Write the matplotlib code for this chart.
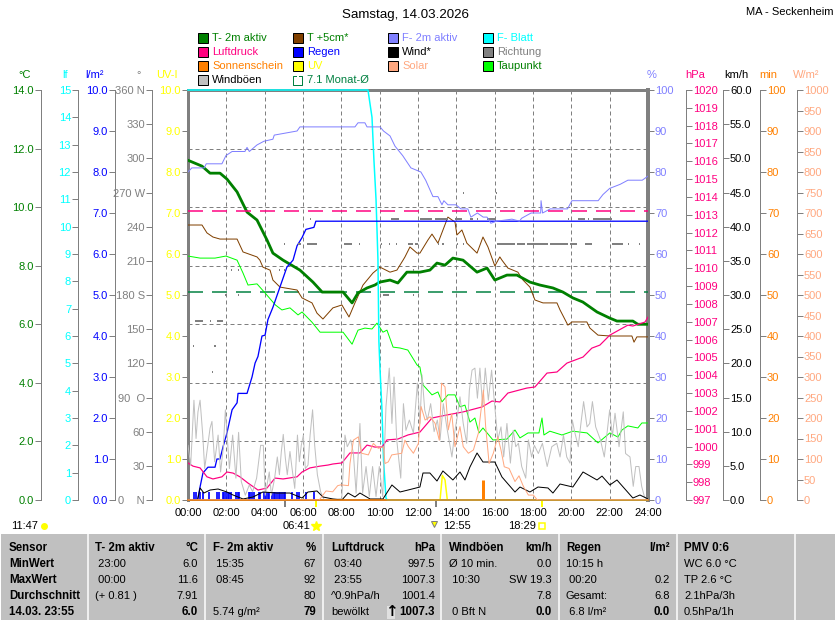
import matplotlib
matplotlib.use("Agg")
import matplotlib.pyplot as plt
from matplotlib.patches import Rectangle

plt.rcParams['font.family'] = ['Liberation Sans', 'DejaVu Sans']

GREEN = '#008000'
CYAN = '#00ffff'
BLUE = '#0000ff'
GRAY = '#808080'
YELLOW = '#ffff00'
LILAC = '#8080ff'
PINK = '#ff0080'
ORANGE = '#ff8000'
SALMON = '#ffa880'
BROWN = '#804000'
LIME = '#00ff00'
LIGHTGRAY = '#c0c0c0'
MONTH = '#008040'
FS = 8
FS_BOLD = 8.3

# all series: hours since midnight / value on the series' own scale
temp_t = [0, .73, 1.15, 1.67, 2.03, 2.56, 3.08, 3.6, 4.12, 4.43, 4.96, 5.84, 6.52, 7.0, 8.09, 8.56, 8.87, 9.34,
          9.75, 10.0, 10.54, 10.95, 11.42, 12.1, 12.62, 12.99, 13.41, 13.82, 14.35, 15.08, 15.6, 16.01, 16.64,
          17.16, 17.84, 18.36, 19.04, 19.56, 20.08, 20.6, 21.34, 22.01, 22.38, 23.21, 23.47, 24]
temp_v = [11.6, 11.4, 11.16, 11.16, 10.96, 10.52, 9.83, 9.56, 8.88, 8.43, 8.19, 7.85, 7.44, 7.1, 7.1, 6.73, 7.07,
          7.24, 7.34, 7.44, 7.51, 7.41, 7.78, 7.78, 7.85, 8.09, 8.02, 8.26, 8.19, 7.78, 7.92, 7.51, 7.68, 7.68,
          7.44, 7.34, 7.24, 7.1, 6.9, 6.76, 6.42, 6.21, 6.11, 6.11, 6.0, 6.0]

soil_t = [0, .73, .99, 1.3, 1.67, 2.56, 2.87, 3.6, 3.75, 3.91, 4.28, 4.43, 4.8, 5.69, 5.95, 6.47, 6.73, 7.04, 7.56,
          8.03, 8.4, 8.71, 9.13, 9.65, 10.02, 10.54, 10.9, 11.22, 11.32, 11.58, 11.95, 12.1, 12.52, 12.73, 13.04,
          13.56, 13.93, 14.03, 14.29, 14.55, 15.08, 15.39, 15.65, 16.01, 16.27, 16.38, 16.69, 17.21, 17.48, 17.84,
          18.1, 18.52, 19.25, 19.41, 19.82, 20.03, 20.81, 20.97, 21.39, 22.01, 23.16, 23.27, 23.42, 24]
soil_v = [9.39, 9.39, 9.12, 8.98, 8.91, 8.91, 8.47, 8.3, 8.19, 7.95, 7.85, 7.51, 7.27, 7.17, 6.9, 6.73, 6.38, 6.18,
          6.56, 6.66, 6.25, 6.73, 7.34, 7.75, 7.95, 7.78, 7.85, 8.19, 8.3, 8.64, 8.43, 8.43, 8.88, 9.08, 8.77, 9.66,
          9.49, 9.05, 9.22, 8.77, 8.43, 8.98, 8.64, 7.99, 8.3, 8.19, 7.92, 7.78, 7.51, 7.27, 6.83, 6.73, 6.73, 6.49,
          5.97, 6.08, 6.08, 5.87, 5.63, 5.6, 5.6, 5.39, 5.57, 5.57]

dew_t = [0, .63, 1.41, 1.98, 2.56, 2.87, 3.13, 3.6, 4.02, 4.56, 4.9, 5.32, 5.74, 5.95, 6.47, 6.89, 8.09, 8.56, 8.87,
         9.23, 9.6, 9.86, 10.17, 10.38, 10.7, 11.06, 11.47, 11.95, 12.1, 12.26, 12.73, 13.04, 13.25, 13.56, 13.93,
         14.19, 14.45, 14.71, 14.97, 15.18, 15.39, 15.91, 16.64, 17.06, 17.32, 17.74, 18.31, 18.47, 18.57, 18.88,
         19.51, 20.08, 20.82, 21.39, 22.01, 22.43, 22.64, 22.95, 23.47, 23.68, 24]
dew_v = [8.33, 8.26, 8.26, 8.33, 8.19, 7.75, 7.34, 7.38, 7.07, 6.66, 6.49, 6.56, 6.32, 6.42, 6.07, 5.73, 5.73, 5.32,
         5.8, 5.87, 5.84, 6.04, 5.73, 5.8, 5.22, 5.19, 5.12, 4.61, 4.54, 3.93, 3.59, 3.69, 3.35, 3.59, 3.59, 3.18,
         3.24, 2.66, 2.8, 2.29, 2.46, 2.05, 2.08, 2.39, 2.12, 2.29, 2.29, 2.8, 2.22, 2.35, 2.22, 2.35, 2.29, 1.95,
         2.29, 2.15, 2.39, 2.53, 2.46, 2.63, 2.63]

hum_t = [0, .2, .85, .95, 1.77, 1.98, 2.3, 2.97, 3.08, 3.2, 3.6, 3.96, 4.43, 4.5, 5.69, 5.84, 8.71, 8.87, 9.23, 9.34,
         10.02, 10.2, 10.54, 10.8, 11.2, 11.63, 12.15, 12.4, 12.78, 13.04, 13.25, 13.35, 13.56, 13.98, 14.24, 14.6,
         14.76, 15.1, 15.4, 15.6, 15.8, 16.1, 16.9, 17.3, 17.4, 17.9, 18.4, 18.42, 18.5, 18.9, 19.8, 20.03, 21.4,
         21.65, 22.0, 22.55, 22.95, 23.7, 24]
hum_v = [80, 81, 81, 82, 82, 84, 85, 85, 86, 85, 86.6, 87.5, 88, 89, 90, 91, 91, 92, 92, 91, 91, 90, 88.8, 86.3, 84,
         81, 80, 78, 74, 74, 72, 73, 72, 72, 71, 71, 69, 70, 69, 69, 67.5, 68, 68.5, 68, 68.7, 70, 70, 73, 70, 71,
         71, 73, 73, 74.5, 76, 77, 78, 78, 79]

leaf_t = [0, 9.39, 9.6, 9.7, 9.81, 9.91, 9.96, 10.02, 10.12, 10.2, 10.33, 10.4, 24]
leaf_v = [15, 15, 14, 12.45, 11, 8.8, 5.8, 4.75, 3.3, 1.46, .07, 0, 0]

rain_t = [0, .5, .63, .78, 1.04, 1.41, 1.51, 1.67, 1.83, 2.03, 2.3, 2.56, 2.61, 3.08, 3.34, 3.5, 3.65, 3.86, 4.02,
          4.17, 4.43, 4.69, 5.16, 5.48, 5.69, 5.95, 6.15, 6.57, 6.67, 24]
rain_v = [0, 0, .32, .66, .8, .8, 1.0, 1.0, 1.3, 1.63, 2.2, 2.37, 2.6, 2.6, 3.0, 3.34, 3.5, 4.0, 4.02, 4.4, 4.7, 5.05,
          5.68, 5.85, 6.2, 6.4, 6.6, 6.65, 6.8, 6.8]
rate_t = [.31, .4, .64, .8, 1.11, 1.5, 1.6, 1.81, 1.9, 1.98, 2.07, 2.16, 2.24, 2.5, 2.59, 2.68, 3.17, 3.25, 3.34,
          3.46, 3.69, 3.77, 3.98, 4.07, 4.16, 4.24, 4.38, 4.47, 4.56, 4.64, 4.73, 4.82, 4.9, 4.99, 5.08, 5.43, 5.69,
          5.77, 6.16, 6.59]
rate_v = [.2] * 40

press_t = [0, .26, .63, .99, 1.3, 1.77, 2.03, 2.35, 2.71, 3.13, 3.65, 4.12, 4.54, 4.96, 5.69, 5.95, 6.36, 6.89, 7.3,
           7.56, 8.03, 8.45, 8.97, 9.34, 9.75, 10.12, 10.38, 10.95, 11.48, 12.1, 12.73, 13.51, 14.35, 15.34, 15.86,
           16.27, 16.69, 17.68, 18.1, 18.73, 19.25, 19.77, 20.61, 21.07, 21.49, 22.01, 22.95, 23.21, 23.84, 24]
press_v = [999.08, 998.9, 998.8, 998.3, 998.18, 998.3, 998.57, 998.51, 998.3, 997.95, 997.56, 997.67, 998.23, 998.18,
           998.3, 998.57, 998.8, 998.9, 998.96, 999.02, 999.08, 999.64, 999.64, 1000.08, 999.97, 999.97, 1000.37,
           1000.42, 1000.65, 1000.81, 1001.6, 1001.77, 1001.94, 1002.22, 1002.55, 1002.5, 1003.0, 1003.28, 1003.34,
           1004.12, 1004.18, 1004.68, 1005.02, 1005.52, 1005.69, 1006.25, 1006.81, 1006.76, 1006.98, 1007.26]

wind_t = [0, .5, .63, .83, 1.15, 1.57, 2.03, 2.35, 2.87, 3.39, 3.91, 4.64, 5.32, 5.95, 6.26, 6.73, 7.04, 7.56, 8.03,
          8.35, 8.71, 8.97, 9.5, 10.17, 10.64, 11.06, 11.48, 12.1, 12.26, 12.62, 12.99, 13.3, 13.82, 14.19, 14.45,
          14.71, 15.08, 15.39, 16.01, 16.38, 17.06, 17.32, 17.84, 18.26, 18.78, 19.04, 19.41, 20.08, 20.61, 21.34,
          21.6, 22.01, 22.38, 23.21, 23.58, 24]
wind_v = [0, 0, 1.76, 1.02, 1.46, 1.61, 1.17, .73, .15, .44, 1.17, 1.02, 1.02, .29, 1.17, 1.32, .44, .15, 0, 1.02,
          .44, 1.02, .15, .15, 2.2, 1.17, 1.46, 1.9, 3.95, 3.95, 2.78, 4.25, 2.93, 4.1, 2.93, 4.83, 6.88, 5.56, 5.56,
          3.37, 1.17, 1.9, 1.17, 1.9, 1.76, 1.02, 2.34, 1.9, 4.1, 2.93, 3.5, 2.2, 2.93, .29, .73, .15]

gust_t = [0, .14, .31, .42, .52, .63, .77, .87, 1.01, 1.15, 1.25, 1.39, 1.57, 1.7, 1.84, 1.95, 2.05, 2.16, 2.33, 2.5,
          2.64, 2.78, 2.99, 3.2, 3.37, 3.58, 3.79, 3.93, 4.03, 4.24, 4.35, 4.52, 4.66, 4.77, 4.87, 4.97, 5.08, 5.18,
          5.32, 5.43, 5.57, 5.71, 5.81, 5.91, 6.02, 6.12, 6.26, 6.37, 6.5, 6.61, 6.75, 6.92, 7.11, 8.02, 8.19, 8.31,
          8.49, 8.63, 8.77, 8.97, 9.11, 9.29, 9.46, 9.63, 9.81, 9.98, 10.16, 10.33, 10.5, 10.64, 10.75, 10.89, 11.1,
          11.24, 11.37, 11.55, 11.76, 11.97, 12.1, 12.21, 12.35, 12.49, 12.66, 12.84, 13.01, 13.15, 13.32, 13.5,
          13.77, 13.93, 14.05, 14.19, 14.36, 14.54, 14.68, 14.82, 14.97, 15.1, 15.23, 15.37, 15.51, 15.67, 15.84,
          16.02, 16.16, 16.33, 16.47, 16.64, 16.82, 16.97, 17.1, 17.24, 17.41, 17.62, 17.76, 17.93, 18.07, 18.28,
          18.49, 18.74, 18.98, 19.24, 19.41, 19.59, 19.76, 19.93, 20.05, 20.19, 20.36, 20.5, 20.64, 20.82, 20.96,
          21.1, 21.27, 21.52, 21.72, 22.0, 22.14, 22.28, 22.49, 22.71, 22.83, 23.06, 23.23, 23.36, 23.53, 23.67,
          23.81, 24]
gust_v = [8.0, 5.1, 14.6, 9.0, 12.9, 14.6, 9.5, 4.6, 7.6, 10.5, 11.5, 5.6, 9.5, 4.1, 7.6, 13.2, 9.0, 4.6, 9.5, 3.2,
          9.9, 2.7, .7, 2.2, 1.2, 3.2, 8.0, 8.0, .7, 4.1, .7, 3.2, 6.3, 3.7, 7.1, 9.6, 6.1, 3.7, 7.1, 4.6, 1.7, 9.5,
          5.6, 8.0, 9.5, 4.6, 5.1, 9.5, 13.2, 8.0, 3.7, 1.2, 0, .2, 9.5, 7.8, 8.8, 6.8, 1.0, 11.2, 1.0, 4.9, .5, 4.9,
          .5, 4.9, .5, 13.7, 19.3, 11.2, 18.0, 8.8, 3.2, 14.1, 10.2, 11.7, 9.8, 17.1, 11.2, 18.3, 13.2, 11.7, 14.1,
          10.0, 11.7, 8.8, 14.1, 10.7, 6.3, 10.2, 12.2, 15.1, 11.2, 8.3, 16.1, 19.0, 19.3, 14.9, 19.3, 13.7, 19.3,
          14.6, 19.0, 13.2, 8.8, 10.7, 6.3, 11.2, 5.4, 10.2, 7.8, 8.3, 4.9, 3.2, 8.8, 6.3, 8.0, 6.8, 8.3, 4.9, 7.8,
          8.3, 6.3, 9.5, 6.3, 5.4, 11.7, 9.8, 7.8, 11.2, 14.4, 10.7, 11.2, 14.4, 10.7, 8.8, 6.3, 13.2, 9.3, 12.7, 7.8,
          12.9, 6.8, 6.3, 2.0, 4.9, 4.9, 2.0, .5, 0]

solar_t = [0, 6.85, 7.2, 7.55, 7.81, 7.98, 8.37, 8.45, 8.63, 8.89, 9.06, 9.41, 9.67, 9.93, 10.19, 10.28, 10.45, 10.63,
           11.15, 11.32, 11.5, 11.76, 12.02, 12.16, 12.37, 12.63, 12.89, 13.11, 13.23, 13.41, 13.58, 13.76, 13.93,
           14.19, 14.36, 14.63, 14.89, 15.15, 15.41, 15.53, 15.71, 15.93, 16.16, 16.33, 16.5, 16.75, 17.06, 17.27,
           17.5, 17.76, 18.02, 18.19, 18.28, 24]
solar_v = [0, 0, 22, 20, 35, 37, 35, 89, 146, 154, 114, 110, 138, 126, 130, 89, 93, 110, 114, 146, 130, 114, 138, 228,
           195, 203, 187, 146, 285, 276, 171, 211, 130, 179, 130, 114, 122, 163, 268, 179, 89, 114, 154, 122, 81, 77,
           45, 59, 33, 12, 12, 2, 0, 0]

uv_t = [0, 13.15, 13.27, 13.41, 13.53, 24]
uv_v = [0, 0, .6, .49, 0, 0]

sun_t = [15.39]
sun_min = [5]

# wind direction: (start, end) hours per heading
dir_270 = [(14.35, 14.42), (16.07, 16.14)]
dir_247 = [(6.36, 6.43), (10.59, 11.0), (12.1, 12.73), (12.88, 13.56), (13.93, 14.29), (14.71, 14.87), (15.08, 15.15),
           (15.6, 16.01), (19.82, 19.89), (20.34, 20.71), (20.87, 20.94), (21.13, 22.12)]
dir_225 = [(5.0, 5.07), (5.74, 5.9), (6.2, 6.73), (8.14, 8.55), (8.92, 8.99), (10.07, 10.14), (10.49, 10.56),
           (10.85, 10.92), (11.48, 11.74), (11.84, 12.0), (13.04, 13.11), (13.25, 13.35), (14.03, 14.1),
           (14.35, 14.42), (16.12, 17.06), (17.16, 17.58), (17.68, 18.78), (18.88, 19.82), (19.93, 20.29),
           (20.71, 21.07), (22.12, 22.69), (22.95, 23.02), (23.53, 23.6)]
dir_202 = [(2.24, 2.31), (2.61, 2.68), (4.75, 4.82), (5.0, 5.07), (11.74, 11.81)]
dir_180 = [(1.93, 2.0), (2.61, 2.68), (10.17, 10.49), (11.74, 11.81)]
dir_157 = [(.37, .78), (1.15, 1.22), (1.51, 1.83)]
dir_135 = [(.26, .33), (1.36, 1.46)]
dir_112 = [(1.25, 1.32)]

month_temp = 7.1
month_press = 1013.2

hour_labels = ['%02d:00' % h for h in range(0, 25, 2)]
dir_ticks = [0, 30, 60, 90, 120, 150, 180, 210, 240, 270, 300, 330, 360]
dir_labels = ['0    N', '30', '60', '90  O', '120', '150', '180 S', '210', '240', '270 W', '300', '330', '360 N']

legend_items = [
    ('T- 2m aktiv', GREEN, GREEN), ('Luftdruck', PINK, PINK), ('Sonnenschein', ORANGE, ORANGE), ('Windböen', LIGHTGRAY, 'black'),
    ('T +5cm*', BROWN, GREEN), ('Regen', BLUE, BLUE), ('UV', YELLOW, YELLOW), ('7.1 Monat-Ø', None, MONTH),
    ('F- 2m aktiv', LILAC, LILAC), ('Wind*', 'black', 'black'), ('Solar', SALMON, SALMON), None,
    ('F- Blatt', CYAN, CYAN), ('Richtung', GRAY, GRAY), ('Taupunkt', LIME, GREEN), None,
]

unit_labels = [('°C', 25, GREEN), ('lf', 65, CYAN), ('l/m²', 95, BLUE), ('°', 139, GRAY), ('UV-I', 167, YELLOW),
               ('%', 652, LILAC), ('hPa', 695, PINK), ('km/h', 736, 'black'), ('min', 768, ORANGE), ('W/m²', 806, SALMON)]

table_left = [
    ['Sensor', 'MinWert', 'MaxWert', 'Durchschnitt', '14.03. 23:55'],
    ['T- 2m aktiv', ' 23:00', ' 00:00', '(+ 0.81 )', ''],
    ['F- 2m aktiv', ' 15:35', ' 08:45', '', '5.74 g/m²'],
    ['Luftdruck', ' 03:40', ' 23:55', '^0.9hPa/h', 'bewölkt'],
    ['Windböen', 'Ø 10 min.', ' 10:30', '', ' 0 Bft N'],
    ['Regen', '10:15 h', ' 00:20', 'Gesamt:', ' 6.8 l/m²'],
    ['PMV 0:6', 'WC 6.0 °C', 'TP 2.6 °C', '2.1hPa/3h', '0.5hPa/1h'],
]
table_right = [
    ['°C', '6.0', '11.6', '7.91', '6.0'],
    ['%', '67', '92', '80', '79'],
    ['hPa', '997.5', '1007.3', '1001.4', '1007.3'],
    ['km/h', '0.0', 'SW 19.3', '7.8', '0.0'],
    ['l/m²', '', '0.2', '6.8', '0.0'],
]
table_left_x = [9, 95, 213, 331, 449, 566, 684]
table_right_x = [198, 316, 435, 552, 670]
table_row_y = [548, 564, 580, 596, 612]
table_split_x = [88, 205, 323, 441, 559, 677, 795]

fig = plt.figure(figsize=(8.35, 6.2), dpi=100)
ax = fig.add_axes([188 / 835, 120 / 620, 460 / 835, 410 / 620])


def px(v):
    return v * 0.72


def style_axis(a, lo, hi, ticks, color, spine_x, side, labels=None):
    a.set_ylim(lo, hi)
    a.set_yticks(ticks)
    if labels is not None:
        a.set_yticklabels(labels)
    if side == 'left':
        a.yaxis.tick_left()
    else:
        a.yaxis.tick_right()
    a.tick_params(axis='y', colors=GRAY, labelcolor=color, length=4, width=px(1), pad=1, labelsize=FS)
    if a is not ax:
        a.patch.set_visible(False)
        for s in a.spines.values():
            s.set_visible(False)
        sp = a.spines[side]
        sp.set_visible(True)
        sp.set_color(GRAY)
        sp.set_linewidth(px(1))
        sp.set_position(('axes', (spine_x - 188) / 460))


def scale(lo, hi, ticks, color, spine_x, side, labels=None):
    a = ax.twinx()
    style_axis(a, lo, hi, ticks, color, spine_x, side, labels)
    return a


style_axis(ax, 0, 10, range(0, 11), YELLOW, 188, 'left', ['%.1f' % v for v in range(0, 11)])
ax.set_xlim(0, 24)
ax.set_xticks(range(0, 25, 2))
ax.set_xticklabels(hour_labels, fontsize=FS)
ax.tick_params(axis='x', length=0, pad=6)
for s in ax.spines.values():
    s.set_color(GRAY)
ax.spines['left'].set_linewidth(px(3))
ax.spines['top'].set_linewidth(px(3))
ax.spines['right'].set_linewidth(px(4))
ax.spines['bottom'].set_linewidth(px(2))
ax.xaxis.grid(True, color=GRAY, lw=px(1), ls=(0, (4, 3)))
ax.set_axisbelow(True)

ax_temp = scale(0, 14, range(0, 15, 2), GREEN, 41, 'left', ['%.1f' % v for v in range(0, 15, 2)])
ax_leaf = scale(0, 15, range(0, 16), CYAN, 78, 'left')
ax_rain = scale(0, 10, range(0, 11), BLUE, 115, 'left', ['%.1f' % v for v in range(0, 11)])
ax_dir = scale(0, 360, dir_ticks, GRAY, 152, 'left', dir_labels)
ax_hum = scale(0, 100, range(0, 101, 10), LILAC, 648, 'right')
ax_press = scale(997, 1020, range(997, 1021), PINK, 686, 'right')
ax_wind = scale(0, 60, range(0, 61, 5), 'black', 723, 'right', ['%.1f' % v for v in range(0, 61, 5)])
ax_min = scale(0, 100, range(0, 101, 10), ORANGE, 760, 'right')
ax_solar = scale(0, 1000, range(0, 1001, 50), SALMON, 797, 'right')

# horizontal grid comes from the temperature scale
ax_temp.yaxis.grid(True, color=GRAY, lw=px(1), ls=(0, (4, 3)))

ax_wind.plot(gust_t, gust_v, color=LIGHTGRAY, lw=px(1))
ax_solar.plot(solar_t, solar_v, color=SALMON, lw=px(1))
for heading, spans in [(270, dir_270), (247, dir_247), (225, dir_225), (202, dir_202), (180, dir_180),
                       (157, dir_157), (135, dir_135), (112, dir_112)]:
    for start, end in spans:
        ax_dir.plot([start, end], [heading, heading], color=GRAY, lw=px(2), solid_capstyle='butt')
ax_press.plot([0, 24], [month_press, month_press], color=PINK, lw=px(1.5), ls=(0, (10, 6)))
ax_temp.plot([0, 24], [month_temp, month_temp], color=MONTH, lw=px(1.5), ls=(0, (10, 6)))
ax_hum.plot(hum_t, hum_v, color=LILAC, lw=px(1))
ax_temp.plot(soil_t, soil_v, color=BROWN, lw=px(1))
ax_temp.plot(dew_t, dew_v, color=LIME, lw=px(1))
ax_leaf.plot(leaf_t, leaf_v, color=CYAN, lw=px(1.5), clip_on=False)
ax_press.plot(press_t, press_v, color=PINK, lw=px(1.2))
ax_rain.plot(rain_t, rain_v, color=BLUE, lw=px(1.3))
ax_rain.vlines(rate_t, 0, rate_v, color=BLUE, lw=px(1.7))
ax_wind.plot(wind_t, wind_v, color='black', lw=px(1))
ax_temp.plot(temp_t, temp_v, color=GREEN, lw=px(2.8))
ax.plot(uv_t, uv_v, color=YELLOW, lw=px(1.5))
ax_min.vlines(sun_t, 0, sun_min, color=ORANGE, lw=px(3))
ax_min.plot([0, 24], [0, 0], color=ORANGE, lw=px(1.5), clip_on=False)

# twilight / sun ticks under the time axis
ax.vlines([5.06, 12.92], -.17, 0, color=GRAY, lw=px(2), clip_on=False)
ax.vlines([6.68, 18.48], -.17, 0, color=YELLOW, lw=px(2), clip_on=False)

# everything laid out by page pixels goes on one overlay
page = fig.add_axes([0, 0, 1, 1], zorder=20)
page.set_xlim(0, 835)
page.set_ylim(620, 0)
page.axis('off')

page.text(406, 15, 'Samstag, 14.03.2026', fontsize=9.6, ha='center', va='center')
page.text(833, 12, 'MA - Seckenheim', fontsize=FS, ha='right', va='center')

for label, x, color in unit_labels:
    page.text(x, 75, label, fontsize=FS, color=color, ha='center', va='center')

for i, item in enumerate(legend_items):
    if item is None:
        continue
    label, box, color = item
    col = i // 4
    y = 38 + (i % 4) * 14
    x = 198 + col * 95
    if box is None:
        page.plot([x + 3, x, x, x + 9, x + 9, x + 6], [y - 4, y - 4, y + 5, y + 5, y - 4, y - 4], color=MONTH, lw=px(1))
    else:
        page.add_patch(Rectangle((x, y - 5), 10, 10, facecolor=box, edgecolor='black', lw=px(1)))
    page.text(x + 14, y, label, fontsize=FS, color=color, va='center')

page.text(11, 526, '11:47', fontsize=FS, va='center')
page.plot(44, 526, marker='o', ms=4, color=YELLOW, mec=YELLOW)
page.text(283, 526, '06:41', fontsize=FS, va='center')
page.plot(316, 526, marker='*', ms=7, color=YELLOW, mec=YELLOW)
page.plot(434, 524, marker='v', ms=5, color=YELLOW, mec=GRAY, mew=px(1))
page.text(443, 526, '12:55', fontsize=FS, va='center')
page.text(508, 526, '18:29', fontsize=FS, va='center')
page.plot(542, 526, marker='s', ms=4, mfc='none', mec=YELLOW, mew=px(1.5))

page.add_patch(Rectangle((1, 534), 834, 86, facecolor=LIGHTGRAY, edgecolor='none'))
for x in table_split_x:
    page.plot([x, x], [534, 620], color='white', lw=px(1.5))
for c, col in enumerate(table_left):
    for r, cell in enumerate(col):
        bold = r == 0 or c == 0
        page.text(table_left_x[c], table_row_y[r], cell, fontsize=FS_BOLD if bold else FS, va='center',
                  fontweight='bold' if bold else 'normal')
for c, col in enumerate(table_right):
    for r, cell in enumerate(col):
        bold = r == 0 or r == 4
        page.text(table_right_x[c], table_row_y[r], cell, fontsize=FS_BOLD if bold else FS, ha='right', va='center',
                  fontweight='bold' if bold else 'normal')
page.add_patch(Rectangle((387, 606), 8, 13, facecolor='#e0e0e0', edgecolor='none'))
page.text(391, 612, '↑', fontsize=11, fontweight='bold', family=['DejaVu Sans'], ha='center', va='center')

fig.savefig('out.png', dpi=100)
